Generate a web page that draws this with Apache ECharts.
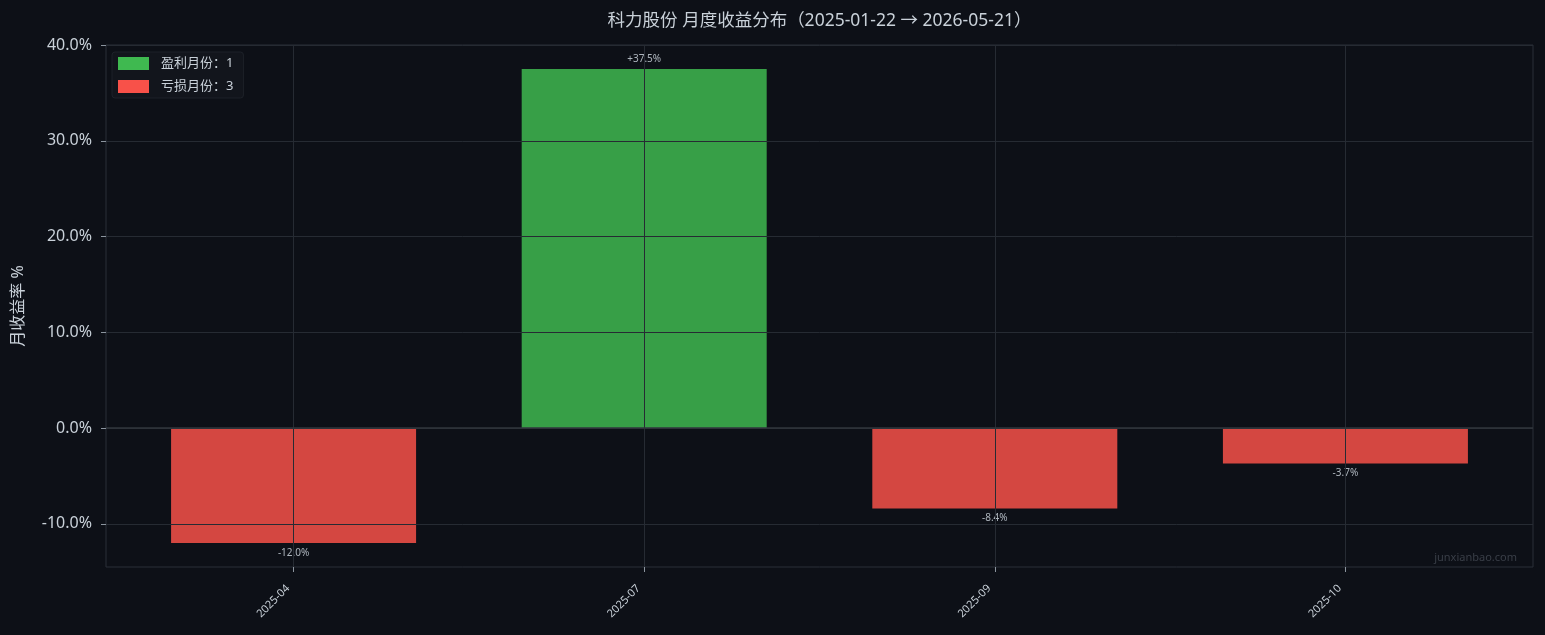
<!DOCTYPE html>
<html>
<head>
<meta charset="utf-8">
<script src="https://cdn.jsdelivr.net/npm/echarts@6/dist/echarts.min.js"></script>
<style>
html,body{margin:0;padding:0;background:#0d1017;}
#chart{width:1545px;height:635px;}
</style>
</head>
<body>
<div id="chart"></div>
<script>
// ---- data ----
const months = ['2025-04', '2025-07', '2025-09', '2025-10'];
const monthlyReturns = [-12.0, 37.5, -8.4, -3.7];
const yTicks = [-10, 0, 10, 20, 30, 40];
const chartTitle = '科力股份 月度收益分布（2025-01-22 → 2026-05-21）';
const yAxisName = '月收益率 %';
const watermark = 'junxianbao.com';

const profitCount = monthlyReturns.filter(v => v > 0).length;
const lossCount = monthlyReturns.filter(v => v <= 0).length;
const profitName = '盈利月份：' + profitCount;
const lossName = '亏损月份：' + lossCount;

const profitData = monthlyReturns.map((v, i) => v > 0 ? [i, v] : [i, null]);
const lossData = monthlyReturns.map((v, i) => v <= 0 ? [i, v] : [i, null]);

const txt = '#c9d1d9';
const gridCol = '#262b33';
const font = '"Noto Sans", "Noto Sans CJK SC", sans-serif';

const chart = echarts.init(document.getElementById('chart'), null, {renderer: 'canvas'});

const labelFmt = p => {
  const v = p.value[1];
  return (v > 0 ? '+' : '') + v.toFixed(1) + '%';
};

const G = {left: 106, right: 12, top: 45, bottom: 68};

chart.setOption({
  backgroundColor: '#0d1017',
  animation: false,
  textStyle: {fontFamily: font},
  legend: {
    left: 112,
    top: 52,
    orient: 'vertical',
    padding: [5, 10, 5, 6],
    itemWidth: 31,
    itemHeight: 13,
    itemGap: 10,
    icon: 'rect',
    backgroundColor: '#12151c',
    borderColor: '#1d2129',
    borderWidth: 1,
    borderRadius: 3,
    textStyle: {color: txt, fontSize: 13, fontFamily: font, padding: [0, 0, 0, 7]},
    data: [
      {name: profitName, itemStyle: {color: '#3fb950', opacity: 1}},
      {name: lossName, itemStyle: {color: '#f85149', opacity: 1}}
    ]
  },
  grid: {
    left: G.left, right: G.right, top: G.top, bottom: G.bottom,
    show: true,
    borderColor: '#2a2f38',
    borderWidth: 1,
    backgroundColor: 'transparent'
  },
  xAxis: {
    type: 'value',
    min: -0.535,
    max: 3.535,
    z: 5,
    axisLine: {show: false, onZero: false},
    axisTick: {show: true, length: 5, lineStyle: {color: '#8b949e'}, customValues: months.map((m, i) => i)},
    axisLabel: {
      customValues: months.map((m, i) => i),
      color: txt, fontSize: 11, rotate: 45, margin: 14, fontFamily: font,
      padding: [0, 8, 0, 0],
      formatter: v => (Number.isInteger(v) && months[v] !== undefined) ? months[v] : ''
    },
    splitLine: {show: true, lineStyle: {color: gridCol, width: 1}}
  },
  yAxis: {
    type: 'value',
    min: -14.5,
    max: 40,
    z: 5,
    name: yAxisName,
    nameLocation: 'middle',
    nameGap: 80,
    nameTextStyle: {color: txt, fontSize: 16, fontFamily: font},
    axisLine: {show: false, onZero: false},
    axisTick: {show: true, length: 5, lineStyle: {color: '#8b949e'}, customValues: yTicks},
    axisLabel: {
      customValues: yTicks,
      color: txt, fontSize: 16, margin: 14, fontFamily: font,
      formatter: v => (yTicks.indexOf(v) >= 0) ? v.toFixed(1) + '%' : ''
    },
    splitLine: {show: true, lineStyle: {color: gridCol, width: 1}}
  },
  graphic: [{
    type: 'text',
    x: G.left + (1545 - G.left - G.right) / 2,
    y: 21,
    style: {text: chartTitle, fill: txt, fontSize: 17.5, fontFamily: font, align: 'center', verticalAlign: 'middle'}
  }, {
    type: 'text',
    right: 28,
    bottom: 72,
    style: {text: watermark, fill: '#3a3f48', fontSize: 11, fontFamily: font}
  }],
  series: [
    {
      name: profitName,
      type: 'bar',
      data: profitData,
      barWidth: 245,
      barGap: '-100%',
      itemStyle: {color: '#3fb950', opacity: 0.85},
      label: {show: true, position: 'top', distance: 5, color: txt, fontSize: 10, formatter: labelFmt},
      markLine: {
        silent: true,
        symbol: 'none',
        label: {show: false},
        lineStyle: {color: '#30363d', width: 1.5, type: 'solid'},
        data: [{yAxis: 0}]
      }
    },
    {
      name: lossName,
      type: 'bar',
      data: lossData,
      barWidth: 245,
      barGap: '-100%',
      itemStyle: {color: '#f85149', opacity: 0.85},
      label: {show: true, position: 'bottom', distance: 5, color: txt, fontSize: 10, formatter: labelFmt}
    }
  ]
});
</script>
</body>
</html>
